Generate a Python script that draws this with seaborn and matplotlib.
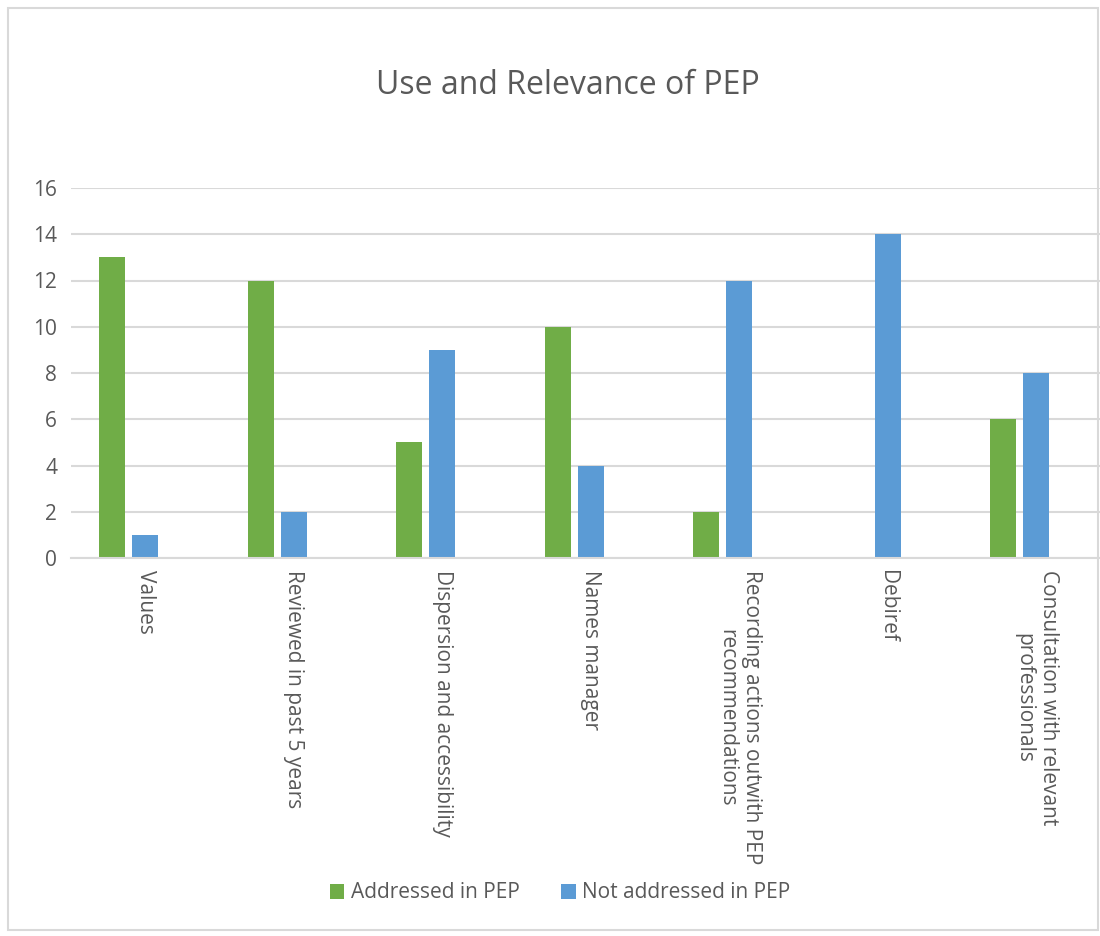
import matplotlib
matplotlib.use("Agg")
import matplotlib.pyplot as plt
from matplotlib.patches import Patch, Rectangle
import seaborn as sns
import pandas as pd

# Chart data
categories = [
    "Values",
    "Reviewed in past 5 years",
    "Dispersion and accessibility",
    "Names manager",
    "Recording actions outwith PEP\nrecommendations",
    "Debiref",
    "Consultation with relevant\nprofessionals",
]
addressed = [13, 12, 5, 10, 2, 0, 6]
not_addressed = [1, 2, 9, 4, 12, 14, 8]
series_names = ["Addressed in PEP", "Not addressed in PEP"]
yticks = [0, 2, 4, 6, 8, 10, 12, 14, 16]

# Excel leaves an empty third slot in each cluster, so keep one
spacer = [0] * len(categories)

df = pd.DataFrame({
    "Category": categories * 3,
    "Series": [series_names[0]] * 7 + [series_names[1]] * 7 + ["_empty"] * 7,
    "Value": addressed + not_addressed + spacer,
})

sns.set_theme(style="white")
plt.rcParams["font.family"] = ["Open Sans", "DejaVu Sans"]
text_color = "#595959"
grid_color = "#d9d9d9"
colors = {series_names[0]: "#70AD47", series_names[1]: "#5B9BD5", "_empty": "white"}

fig = plt.figure(figsize=(11, 9.36), dpi=100)
ax = fig.add_axes([71 / 1100, 1 - 558 / 936, (7 * 148.5) / 1100, (558 - 188) / 936])

sns.barplot(data=df, x="Category", y="Value", hue="Series",
            hue_order=series_names + ["_empty"], palette=colors, saturation=1,
            width=0.667, gap=0.21, linewidth=0, legend=False, ax=ax,
            errorbar=None)

ax.set_ylim(0, 16)
ax.set_xlim(-0.5, 6.5)
ax.set_yticks(yticks)
ax.set_yticklabels([str(t) for t in yticks], fontsize=15, color=text_color)
ax.yaxis.grid(True, color=grid_color, linewidth=1.5)
ax.set_axisbelow(True)
for s in ["top", "right", "left"]:
    ax.spines[s].set_visible(False)
ax.spines["bottom"].set_color(grid_color)
ax.spines["bottom"].set_linewidth(1.5)
ax.tick_params(axis="both", length=0, pad=10)
ax.set_xticks(range(len(categories)))
ax.set_xticklabels(categories, rotation=270, ha="center", va="top",
                   multialignment="center", fontsize=15, color=text_color)
ax.tick_params(axis="x", pad=9)
ax.set_xlabel("")
ax.set_ylabel("")

fig.text(568 / 1100, 1 - 86 / 936, "Use and Relevance of PEP", ha="center",
         va="center", fontsize=23, color=text_color)

handles = [Patch(facecolor=colors[n], edgecolor="none", label=n) for n in series_names]
fig.legend(handles=handles, loc="center", bbox_to_anchor=(560 / 1100, 1 - 893 / 936),
           ncol=2, frameon=False, fontsize=15, labelcolor=text_color,
           handlelength=0.7, handleheight=0.7, handletextpad=0.3, columnspacing=2.0)

# chart border
fig.patches.append(Rectangle((8 / 1100, 1 - 930 / 936), 1090 / 1100, 922 / 936,
                             transform=fig.transFigure, fill=False,
                             edgecolor=grid_color, linewidth=1.5))

fig.savefig("out.png", dpi=100)
